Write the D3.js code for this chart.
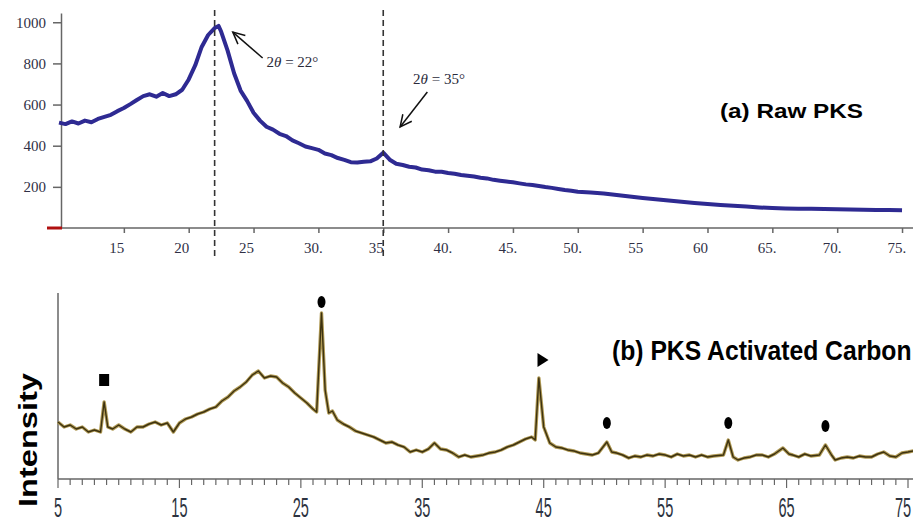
<!DOCTYPE html>
<html>
<head>
<meta charset="utf-8">
<script src="https://cdn.jsdelivr.net/npm/d3@7"></script>
<style>
  body { margin: 0; background: #fff; }
  svg { display: block; }
</style>
</head>
<body>
<script>
// (a) Raw PKS - 2theta (deg) and counts
var rawX = [10, 10.5, 11, 11.5, 12, 12.5, 13, 13.5, 14, 14.5, 15, 15.5, 16, 16.5, 17, 17.5, 18, 18.5, 19, 19.5,
    20, 20.5, 21, 21.5, 22, 22.3, 22.5, 23, 23.5, 24, 24.5, 25, 25.5, 26, 26.5, 27, 27.5, 28, 28.5, 29, 29.5,
    30, 30.5, 31, 31.5, 32, 32.5, 33, 33.5, 34, 34.5, 35, 35.5, 36, 36.5, 37, 37.5, 38, 38.5, 39, 39.5,
    40, 40.5, 41, 41.5, 42, 42.5, 43, 43.5, 44, 44.5, 45, 45.5, 46, 46.5, 47, 47.5, 48, 48.5, 49, 49.5,
    50, 51, 52, 53, 54, 55, 56, 57, 58, 59, 60, 61, 62, 63, 64, 65, 66, 67, 68, 69, 70, 71, 72, 73, 74, 75, 76];
var rawY = [512, 505, 518, 508, 522, 514, 530, 540, 550, 568, 583, 602, 622, 641, 650, 638, 656, 641, 650, 672,
    722, 790, 880, 938, 972, 982, 955, 862, 752, 668, 618, 560, 522, 492, 478, 458, 447, 426, 412, 396, 388,
    380, 362, 354, 340, 331, 320, 318, 322, 324, 338, 366, 332, 312, 306, 298, 294, 284, 281, 274, 273,
    267, 264, 258, 254, 250, 244, 241, 234, 230, 226, 222, 217, 212, 209, 204, 199, 195, 190, 185, 181,
    176, 172, 168, 160, 153, 146, 140, 134, 128, 122, 117, 112, 108, 104, 100, 97, 95, 94, 93, 92, 91, 90, 89, 88, 87, 86];

// (b) PKS Activated Carbon - 2theta (deg) and intensity (a.u.)
var acX = [5, 5.5, 6, 6.5, 7, 7.5, 8, 8.5, 8.8, 9.1, 9.5, 10, 10.5, 11, 11.5, 12, 12.5, 13, 13.5, 14, 14.5,
    15, 15.5, 16, 16.5, 17, 17.5, 18, 18.5, 19, 19.5, 20, 20.5, 21, 21.5, 22, 22.5, 23, 23.5, 24, 24.5,
    25, 25.5, 26, 26.3, 26.7, 27, 27.3, 27.6, 28, 28.5, 29, 29.5, 30, 30.5, 31, 31.5, 32, 32.5, 33, 33.5,
    34, 34.5, 35, 35.5, 36, 36.5, 37, 37.5, 38, 38.5, 39, 39.5, 40, 40.5, 41, 41.5, 42, 42.5, 43, 43.5,
    44, 44.3, 44.6, 45, 45.5, 46, 46.5, 47, 47.5, 48, 48.5, 49, 49.5, 50.2, 50.6, 51, 51.5, 52, 52.5, 53,
    53.5, 54, 54.5, 55, 55.5, 56, 56.5, 57, 57.5, 58, 58.5, 59, 59.8, 60.2, 60.6, 61, 61.5, 62, 62.5, 63,
    63.5, 64, 64.7, 65.2, 65.5, 66, 66.5, 67, 67.7, 68.2, 68.7, 69, 69.5, 70, 70.5, 71, 71.5, 72, 72.5,
    73, 73.5, 74, 74.5, 75, 75.8];
var acY = [57, 52, 54, 50, 52, 47, 49, 47, 77, 52, 50, 54, 50, 47, 52, 52, 55, 57, 54, 56, 47,
    56, 60, 62, 65, 67, 70, 72, 78, 82, 88, 92, 97, 104, 108, 101, 103, 102, 96, 92, 86,
    81, 76, 70, 67, 166, 89, 66, 68, 59, 55, 52, 48, 46, 44, 42, 39, 36, 37, 34, 32,
    27, 29, 27, 30, 36, 30, 29, 26, 22, 24, 22, 23, 24, 26, 27, 29, 32, 34, 37, 40,
    42, 39, 101, 52, 36, 32, 31, 29, 28, 26, 25, 24, 26, 37, 27, 26, 24, 21, 23, 22,
    24, 23, 25, 24, 22, 25, 23, 24, 22, 24, 22, 23, 24, 39, 22, 19, 21, 22, 24, 24,
    22, 25, 31, 25, 24, 22, 25, 23, 24, 34, 24, 19, 21, 22, 21, 23, 22, 22, 25,
    27, 23, 22, 26, 27, 29];

// Phase markers above the peaks of (b)
var markX = [8.8, 26.7, 44.9, 50.2, 60.2, 68.2];
var markY = [99, 177, 119, 56, 56, 53];
var markType = ["square", "circle", "triangle", "circle", "circle", "circle"];

// Ticks
var topYTicks = [200, 400, 600, 800, 1000];
var topXTicks = [15, 20, 25, 30, 35, 40, 45, 50, 55, 60, 65, 70, 75];
var topXLabels = ["15", "20", "25", "30.", "35", "40.", "45.", "50.", "55", "60", "65.", "70.", "75."];
var botXMajor = [5, 15, 25, 35, 45, 55, 65, 75];
var peakLines = [22, 35];

var svgWidth = 913;
var svgHeight = 523;

var svg = d3.select("body").append("svg")
    .attr("width", svgWidth)
    .attr("height", svgHeight);

// ---------- Top panel ----------
var xTop = d3.scaleLinear().domain([10, 76]).range([59, 915]);
var yTop = d3.scaleLinear().domain([0, 1045]).range([228, 13]);

var topGroup = svg.append("g");

// y axis
var yAxisTop = topGroup.append("g")
    .attr("transform", "translate(61,0)")
    .call(d3.axisLeft(yTop).tickValues(topYTicks).tickSize(8).tickSizeOuter(0).tickPadding(7)
        .tickFormat(d3.format("d")));
yAxisTop.select(".domain").attr("stroke", "#666").attr("stroke-width", 1.5);
yAxisTop.selectAll(".tick line").attr("stroke", "#666").attr("stroke-width", 1.5);
yAxisTop.selectAll(".tick text")
    .attr("font-family", "Liberation Serif, serif")
    .attr("font-size", 15)
    .attr("fill", "#2f2f45");

// x axis
var xAxisTop = topGroup.append("g")
    .attr("transform", "translate(0,228)")
    .call(d3.axisBottom(xTop).tickValues(topXTicks).tickSize(5).tickSizeOuter(0)
        .tickFormat(function(d, i) { return topXLabels[i]; }));
xAxisTop.select(".domain").remove();
xAxisTop.selectAll(".tick line").attr("stroke", "#666").attr("stroke-width", 1.5);
xAxisTop.selectAll(".tick text")
    .attr("text-anchor", "start")
    .attr("x", -15)
    .attr("y", 25)
    .attr("dy", 0)
    .attr("font-family", "Liberation Serif, serif")
    .attr("font-size", 15)
    .attr("fill", "#2f2f45");

topGroup.append("line")
    .attr("x1", 47).attr("x2", 913)
    .attr("y1", 228).attr("y2", 228)
    .attr("stroke", "#666").attr("stroke-width", 1.5);
topGroup.append("line")
    .attr("x1", 47).attr("x2", 62)
    .attr("y1", 228).attr("y2", 228)
    .attr("stroke", "#b01010").attr("stroke-width", 3);

// raw series
var rawLine = d3.line()
    .x(function(d, i) { return xTop(rawX[i]); })
    .y(function(d) { return yTop(d); });

topGroup.append("path")
    .datum(rawY)
    .attr("fill", "none")
    .attr("stroke", "#2e2a92")
    .attr("stroke-width", 4)
    .attr("stroke-linejoin", "round")
    .attr("d", rawLine);

// dashed peak lines
topGroup.selectAll(".peakLine")
    .data(peakLines)
    .enter()
    .append("line")
    .attr("x1", d => xTop(d)).attr("x2", d => xTop(d))
    .attr("y1", 10).attr("y2", 258)
    .attr("stroke", "#333")
    .attr("stroke-width", 1.6)
    .attr("stroke-dasharray", "6,4");

// annotations
function arrow(g, x1, y1, x2, y2) {
    g.append("line")
        .attr("x1", x1).attr("y1", y1).attr("x2", x2).attr("y2", y2)
        .attr("stroke", "#111").attr("stroke-width", 1.5);
    var a = Math.atan2(y2 - y1, x2 - x1);
    var len = 13, spread = 0.45;
    var p1 = [x2 - len * Math.cos(a - spread), y2 - len * Math.sin(a - spread)];
    var p2 = [x2 - len * Math.cos(a + spread), y2 - len * Math.sin(a + spread)];
    g.append("path")
        .attr("d", "M" + p1 + "L" + x2 + "," + y2 + "L" + p2)
        .attr("fill", "none").attr("stroke", "#111").attr("stroke-width", 1.5);
}

arrow(topGroup, xTop(25.7), yTop(826), xTop(23.4), yTop(952));
arrow(topGroup, xTop(38.4), yTop(661), xTop(36.3), yTop(491));

function thetaLabel(g, x, y, deg) {
    var t = g.append("text")
        .attr("x", x).attr("y", y)
        .attr("font-family", "Liberation Serif, serif")
        .attr("font-size", 15)
        .attr("fill", "#2a2a3a");
    t.append("tspan").text("2");
    t.append("tspan").attr("font-style", "italic").text("θ");
    t.append("tspan").text(" = " + deg + "°");
}
thetaLabel(topGroup, xTop(26.0), 67, 22);
thetaLabel(topGroup, xTop(37.3), 84, 35);

topGroup.append("text")
    .attr("x", 720).attr("y", 118)
    .attr("font-family", "Liberation Sans, Arial, sans-serif")
    .attr("font-weight", "bold")
    .attr("font-size", 20)
    .attr("textLength", 143)
    .attr("lengthAdjust", "spacingAndGlyphs")
    .attr("fill", "#000")
    .text("(a) Raw PKS");

// ---------- Bottom panel ----------
var xBot = d3.scaleLinear().domain([5, 75]).range([58, 908]);
var yBot = d3.scaleLinear().domain([0, 186]).range([479, 293]);

var botGroup = svg.append("g");

botGroup.append("line")
    .attr("x1", 58).attr("x2", 58).attr("y1", 293).attr("y2", 479)
    .attr("stroke", "#666").attr("stroke-width", 1.5);
botGroup.append("line")
    .attr("x1", 58).attr("x2", 913).attr("y1", 479).attr("y2", 479)
    .attr("stroke", "#666").attr("stroke-width", 1.5);

var minorTicks = d3.range(5, 76, 1);
botGroup.selectAll(".minorTick")
    .data(minorTicks)
    .enter()
    .append("line")
    .attr("x1", d => xBot(d)).attr("x2", d => xBot(d))
    .attr("y1", 479)
    .attr("y2", d => botXMajor.indexOf(d) >= 0 ? 488 : 485)
    .attr("stroke", "#666").attr("stroke-width", 1.2);

// last label is kept inside the right edge
botGroup.selectAll(".botLabel")
    .data(botXMajor)
    .enter()
    .append("text")
    .attr("transform", d => "translate(" + Math.min(xBot(d), 903) + ",517) scale(0.52,1)")
    .attr("text-anchor", "middle")
    .attr("font-family", "Liberation Sans, Arial, sans-serif")
    .attr("font-size", 28)
    .attr("fill", "#2d3340")
    .text(d => d);

var acLine = d3.line()
    .x(function(d, i) { return xBot(acX[i]); })
    .y(function(d) { return yBot(d); });

botGroup.append("path")
    .datum(acY)
    .attr("fill", "none")
    .attr("stroke", "#b09a55")
    .attr("stroke-width", 3.4)
    .attr("stroke-linejoin", "round")
    .attr("d", acLine);
botGroup.append("path")
    .datum(acY)
    .attr("fill", "none")
    .attr("stroke", "#3d3210")
    .attr("stroke-width", 1.4)
    .attr("stroke-linejoin", "round")
    .attr("d", acLine);

// markers
markType.forEach(function(t, i) {
    var cx = xBot(markX[i]), cy = yBot(markY[i]);
    if (t === "square") {
        botGroup.append("rect")
            .attr("x", cx - 5).attr("y", cy - 6)
            .attr("width", 10).attr("height", 12)
            .attr("fill", "#000");
    } else if (t === "circle") {
        botGroup.append("ellipse")
            .attr("cx", cx).attr("cy", cy)
            .attr("rx", 4).attr("ry", 6)
            .attr("fill", "#000");
    } else {
        botGroup.append("path")
            .attr("d", "M" + (cx - 5) + "," + (cy - 7) + "L" + (cx + 6) + "," + cy + "L" + (cx - 5) + "," + (cy + 7) + "Z")
            .attr("fill", "#000");
    }
});

// condensed bold title (squeezed with a horizontal scale)
botGroup.append("text")
    .attr("transform", "translate(612,360) scale(0.915,1)")
    .attr("font-family", "Liberation Sans, Arial, sans-serif")
    .attr("font-weight", "bold")
    .attr("font-size", 27)
    .attr("fill", "#000")
    .text("(b) PKS Activated Carbon");

botGroup.append("text")
    .attr("transform", "translate(37,440) rotate(-90)")
    .attr("text-anchor", "middle")
    .attr("font-family", "Liberation Sans, Arial, sans-serif")
    .attr("font-weight", "bold")
    .attr("font-size", 26)
    .attr("textLength", 134)
    .attr("lengthAdjust", "spacingAndGlyphs")
    .attr("fill", "#000")
    .text("Intensity");
</script>
</body>
</html>
